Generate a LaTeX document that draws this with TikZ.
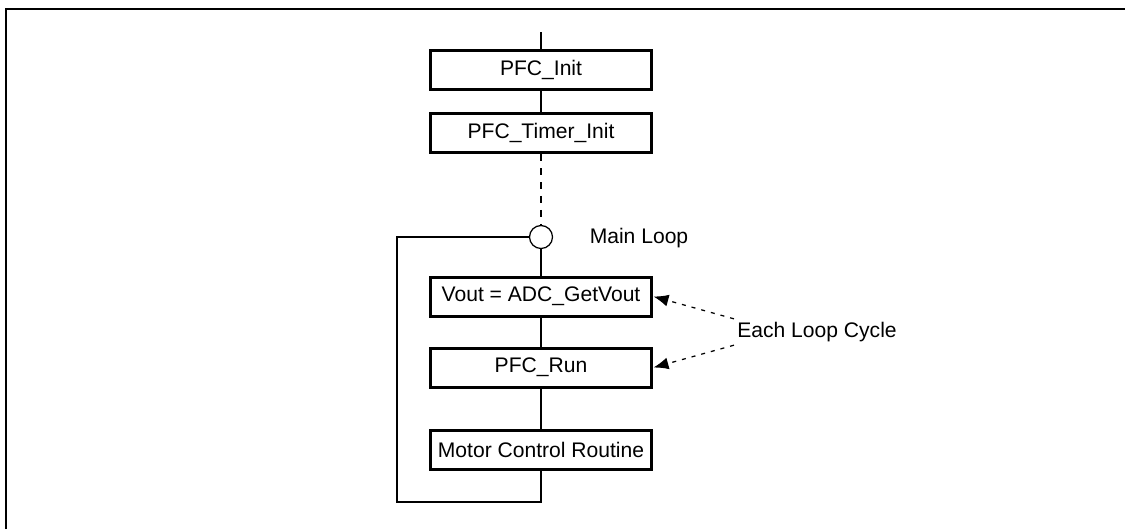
\documentclass[tikz,border=0pt]{standalone}
\usepackage{fontspec}
\setmainfont{Liberation Sans}
\usetikzlibrary{arrows.meta}
\tikzset{font={\fontsize{12pt}{14}\selectfont}}
\tikzset{
  routine/.style={draw, line width=0.06cm, minimum width=4.44cm, minimum height=0.78cm, inner sep=0pt},
  flow/.style={line width=0.04cm},
  hint/.style={dash pattern=on 0.08cm off 0.12cm, line width=0.025cm, -{Latex[length=0.3cm,width=0.24cm]}}
}

\begin{document}
\begin{tikzpicture}[x=0.02cm, y=-0.02cm]
      \useasboundingbox (0,0) rectangle (1125,529);
      %frame
      \draw[line width=0.045cm] (6,529) -- (6,9) -- (1125,9);
      %routines
      \node[routine] (init) at (541,69.5) {PFC\_Init};
      \node[routine] (timer) at (541,133) {PFC\_Timer\_Init};
      \node[draw, circle, line width=0.025cm, minimum size=0.46cm, inner sep=0pt] (mainloop) at (541,237) {};
      \node[routine] (vout) at (541,296.5) {Vout = ADC\_GetVout};
      \node[routine] (run) at (541,367.5) {PFC\_Run};
      \node[routine] (motor) at (541,450) {Motor Control Routine};
      %labels
      \node (looplabel) at (639,238) {Main Loop};
      \node[inner sep=0.06cm] (eachcycle) at (817,332) {Each Loop Cycle};
      %flow lines
      \coordinate (entry) at (541,32);
      \coordinate (corner) at (397,502);
      \draw[flow] (entry) -- (init);
      \draw[flow] (init) -- (timer);
      \draw[flow, dash pattern=on 0.14cm off 0.14cm] (timer) -- (mainloop);
      \draw[flow] (mainloop) -- (vout);
      \draw[flow] (vout) -- (run);
      \draw[flow] (run) -- (motor);
      \draw[flow] (motor) |- (corner) |- (mainloop);
      %loop cycle arrows
      \draw[hint] (eachcycle.north west) -- (vout.east);
      \draw[hint] (eachcycle.south west) -- (run.east);
    \end{tikzpicture}
\end{document}
